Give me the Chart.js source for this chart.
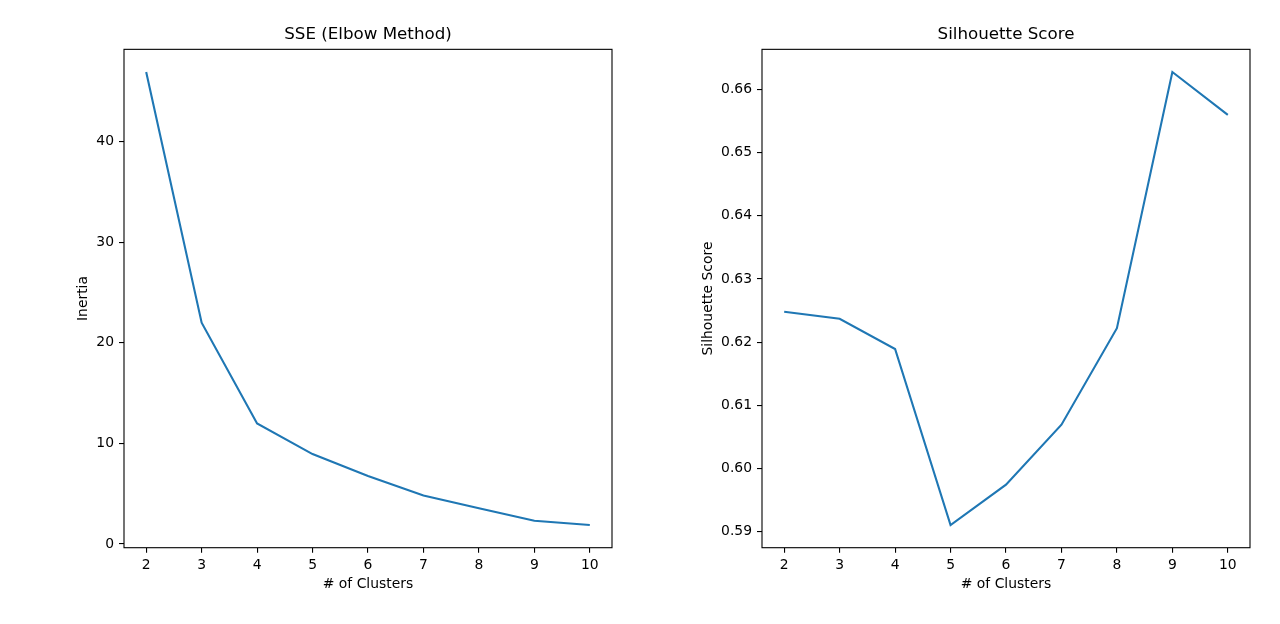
<!DOCTYPE html>
<html>
<head>
<meta charset="utf-8">
<script src="https://cdn.jsdelivr.net/npm/chart.js@4"></script>
<style>
  html, body { margin: 0; padding: 0; background: #fff; }
  #wrap { position: relative; width: 1280px; height: 624px; }
  canvas { position: absolute; top: 0; }
</style>
</head>
<body>
<div id="wrap">
  <canvas id="sseChart" width="640" height="624" style="left:0"></canvas>
  <canvas id="silChart" width="640" height="624" style="left:640px"></canvas>
</div>
<script>
// --- data ---
const clusters = [2, 3, 4, 5, 6, 7, 8, 9, 10];
const sseValues = [46.93, 22.0, 11.98, 8.94, 6.76, 4.81, 3.56, 2.31, 1.88];
const silhouetteValues = [0.6248, 0.6237, 0.6189, 0.5910, 0.5974, 0.6069, 0.6222, 0.6628, 0.6560];

// tick labels
const xTicks = [2, 3, 4, 5, 6, 7, 8, 9, 10];
const sseTicks = [0, 10, 20, 30, 40];
const silTicks = [0.59, 0.60, 0.61, 0.62, 0.63, 0.64, 0.65, 0.66];

Chart.defaults.font.family = 'DejaVu Sans';
Chart.defaults.color = '#000';

// matplotlib style box around the plot area
const frame = {
  id: 'frame',
  afterDraw(chart) {
    const { ctx, chartArea: a } = chart;
    ctx.save();
    ctx.strokeStyle = '#000';
    ctx.lineWidth = 1.1;
    ctx.strokeRect(a.left, a.top, a.right - a.left, a.bottom - a.top);
    ctx.restore();
  }
};

// 5% padding like matplotlib autoscale
function padded(values, frac) {
  const lo = Math.min(...values), hi = Math.max(...values);
  const m = (hi - lo) * frac;
  return [lo - m, hi + m];
}

function makeChart(id, title, yLabel, values, yTicks, fmt, yWidth, yTitlePad, rightPad) {
  const [yMin, yMax] = padded(values, 0.05);
  const [xMin, xMax] = padded(clusters, 0.05);
  const tickGrid = {
    drawOnChartArea: false,
    drawTicks: true,
    tickLength: 5,
    color: '#000',
    lineWidth: 1.1
  };

  return new Chart(document.getElementById(id), {
    type: 'line',
    data: {
      datasets: [{
        data: clusters.map((k, i) => ({ x: k, y: values[i] })),
        borderColor: '#1f77b4',
        borderWidth: 2.1,
        pointRadius: 0,
        tension: 0,
        fill: false
      }]
    },
    options: {
      responsive: false,
      animation: false,
      layout: { padding: { left: 0, right: rightPad, top: 0, bottom: 0 } },
      plugins: {
        legend: { display: false },
        tooltip: { enabled: false },
        title: {
          display: true,
          text: title,
          fullSize: false,
          font: { size: 16.7, weight: 'normal' },
          padding: { top: 24.5, bottom: 4.8 }
        }
      },
      scales: {
        x: {
          type: 'linear',
          min: xMin,
          max: xMax,
          grid: tickGrid,
          border: { display: false },
          afterBuildTicks: (s) => { s.ticks = xTicks.map(v => ({ value: v })); },
          afterFit: (s) => { s.height = 76.3; },
          ticks: {
            autoSkip: false,
            maxRotation: 0,
            padding: 4,
            font: { size: 13.9 }
          },
          title: {
            display: true,
            text: '# of Clusters',
            font: { size: 13.9 },
            padding: { top: 0, bottom: 31.7 }
          }
        },
        y: {
          type: 'linear',
          min: yMin,
          max: yMax,
          grid: tickGrid,
          border: { display: false },
          afterBuildTicks: (s) => { s.ticks = yTicks.map(v => ({ value: v })); },
          afterFit: (s) => { s.width = yWidth; },
          ticks: {
            autoSkip: false,
            padding: 5,
            font: { size: 13.9 },
            callback: fmt
          },
          title: {
            display: true,
            text: yLabel,
            font: { size: 13.9 },
            padding: { top: yTitlePad, bottom: 0 }
          }
        }
      }
    },
    plugins: [frame]
  });
}

makeChart('sseChart', 'SSE (Elbow Method)', 'Inertia', sseValues, sseTicks,
  (v) => String(v), 124, 75, 28);
makeChart('silChart', 'Silhouette Score', 'Silhouette Score', silhouetteValues, silTicks,
  (v) => v.toFixed(2), 122, 60, 30);
</script>
</body>
</html>
